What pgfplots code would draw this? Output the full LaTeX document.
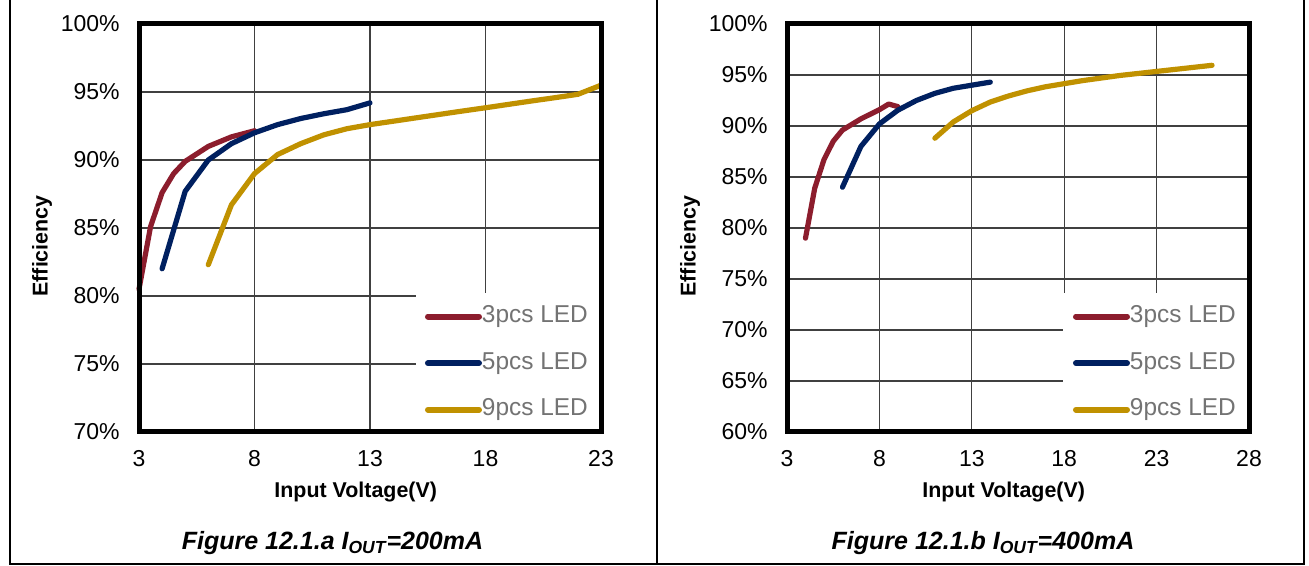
\documentclass[border=0pt]{standalone}
\usepackage{pgfplots}
\pgfplotsset{compat=1.18}
\usepackage{fontspec}
\setmainfont{Liberation Sans}
\definecolor{cred}{RGB}{140,29,45}
\definecolor{cnavy}{RGB}{0,32,96}
\definecolor{cgold}{RGB}{192,145,0}
\definecolor{cgrid}{RGB}{64,64,64}
\definecolor{legtext}{RGB}{115,115,115}
\pgfplotsset{
  effax/.style={
    scale only axis, width=231pt, height=204pt,
    clip=false,
    axis line style={draw=none},
    xmajorgrids, ymajorgrids,
    grid style={cgrid, line width=0.65pt},
    major tick length=0pt,
    tick style={draw=none},
    tick label style={font=\fontsize{11.5}{13}\selectfont},
    xticklabel style={inner sep=0pt, yshift=-9.25pt, anchor=north},
    yticklabel style={inner sep=0pt, xshift=-9.5pt, anchor=east},
    xlabel={Input Voltage(V)}, ylabel={Efficiency},
    label style={font=\fontsize{10.7}{12}\selectfont\bfseries},
    xlabel style={at={(axis description cs:0.469,-0.147)}, anchor=center},
    ylabel style={at={(axis description cs:-0.21,0.456)}, anchor=center},
    legend style={draw=none, fill=none, at={(axis description cs:0.619,0.31)}, anchor=north west,
      inner sep=0pt, outer sep=0pt, font=\fontsize{12.2}{13}\selectfont, text=legtext,
      row sep=12.3pt,
      nodes={inner sep=0pt, text height=8.6pt, text depth=2.4pt},
      /tikz/every even column/.append style={column sep=4pt}},
    legend cell align=left,
    legend image code/.code={\draw[#1, line width=3pt] (1.5pt,0pt) -- (27pt,0pt);},
  },
  crv/.style={line width=2.6pt, line cap=round, line join=round},
}
\begin{document}
\begin{tikzpicture}
\useasboundingbox (0,0) rectangle (654.5pt,283pt);
\begin{axis}[effax, name=L, at={(69.5pt,67pt)}, anchor=south west,
  xmin=3, xmax=23, ymin=70, ymax=100,
  xtick={3,8,13,18,23}, xticklabels={3,8,13,18,23},
  ytick={70,75,80,85,90,95,100}, yticklabels={70\%,75\%,80\%,85\%,90\%,95\%,100\%}]
\fill[white] (axis cs:15.0,70) rectangle (axis cs:23,80.22);
\addplot[cred, crv] coordinates {(3,80.5) (3.5,85.1) (4,87.6) (4.5,89.0) (5,89.9) (6,91.0) (7,91.7) (8,92.15)};
\addplot[cnavy, crv] coordinates {(4,82.0) (5,87.7) (6,90.0) (7,91.2) (8,92.0) (9,92.6) (10,93.05) (11,93.4) (12,93.7) (13,94.2)};
\addplot[cgold, crv] coordinates {(6,82.3) (7,86.7) (8,89.0) (9,90.4) (10,91.2) (11,91.85) (12,92.3) (13,92.6) (14,92.85) (15,93.1) (16,93.35) (17,93.6) (18,93.84) (19,94.09) (20,94.34) (21,94.58) (22,94.83) (23,95.5)};
\legend{3pcs LED,5pcs LED,9pcs LED}
\end{axis}
\begin{axis}[effax, name=R, at={(393.5pt,67pt)}, anchor=south west,
  xmin=3, xmax=28, ymin=60, ymax=100,
  xtick={3,8,13,18,23,28}, xticklabels={3,8,13,18,23,28},
  ytick={60,65,70,75,80,85,90,95,100}, yticklabels={60\%,65\%,70\%,75\%,80\%,85\%,90\%,95\%,100\%}]
\fill[white] (axis cs:17.92,60) rectangle (axis cs:28,73.63);
\addplot[cred, crv] coordinates {(4,79.0) (4.5,83.9) (5,86.7) (5.5,88.5) (6,89.6) (7,90.7) (8,91.6) (8.5,92.15) (9,91.9)};
\addplot[cnavy, crv] coordinates {(6,84.0) (7,88.0) (8,90.2) (9,91.55) (10,92.5) (11,93.2) (12,93.7) (13,94.0) (14,94.3)};
\addplot[cgold, crv] coordinates {(11,88.8) (12,90.4) (13,91.5) (14,92.35) (15,92.95) (16,93.45) (17,93.85) (18,94.15) (19,94.45) (20,94.7) (21,94.95) (22,95.15) (23,95.35) (24,95.55) (25,95.75) (26,95.95)};
\legend{3pcs LED,5pcs LED,9pcs LED}
\end{axis}
\draw[black, line width=2.5pt] (L.south west) rectangle (L.north east);
\draw[black, line width=2.5pt] (R.south west) rectangle (R.north east);
\draw[black, line width=1pt] (5pt,283pt) -- (5pt,1pt) -- (652pt,1pt) -- (652pt,283pt);
\draw[black, line width=1pt] (328.5pt,283pt) -- (328.5pt,1pt);
\node[font=\fontsize{12.5}{14}\selectfont\bfseries\itshape] at (166.25pt,11.5pt) {Figure 12.1.a I\textsubscript{OUT}=200mA};
\node[font=\fontsize{12.5}{14}\selectfont\bfseries\itshape] at (491.5pt,11.5pt) {Figure 12.1.b I\textsubscript{OUT}=400mA};
\end{tikzpicture}
\end{document}
